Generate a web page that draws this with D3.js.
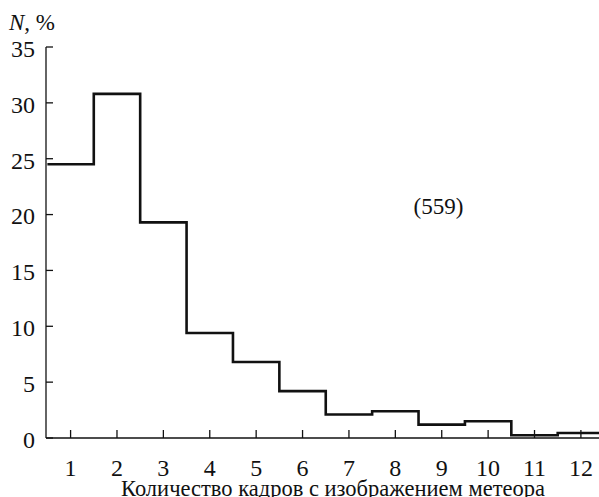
<!DOCTYPE html>
<html><head><meta charset="utf-8">
<script src="https://cdn.jsdelivr.net/npm/d3@7"></script>
<style>
html,body{margin:0;padding:0;background:#fff;overflow:hidden}
#wrap{position:relative;width:599px;height:497px;overflow:hidden}
svg{display:block;position:absolute;left:0;top:0}
.lbl{position:absolute;white-space:nowrap;font-family:'Liberation Serif','Times New Roman',serif;color:#111;line-height:1}
</style>
</head><body>
<div id="wrap"></div>
<script>
const categories = [1,2,3,4,5,6,7,8,9,10,11,12];
const values = [24.5, 30.8, 19.3, 9.4, 6.8, 4.2, 2.1, 2.4, 1.2, 1.5, 0.25, 0.45];
const yTicks = [0,5,10,15,20,25,30,35];
const annotation = "(559)";
const xTitle = "Количество кадров с изображением метеора";
const yTitle = ["N", ", %"];

const W = 599, H = 497;
const wrap = d3.select("#wrap");
const svg = wrap.append("svg").attr("width", W).attr("height", H);
const x = d3.scaleLinear().domain([0.47, 12.39]).range([46, 599]);
const y = d3.scaleLinear().domain([0, 35]).range([438, 47]);

// HTML text label positioned by baseline
function label(px, baseline, size, anchor, parts) {
  const shift = anchor === "middle" ? "-50%" : anchor === "end" ? "-100%" : "0";
  const d = wrap.append("div").attr("class", "lbl")
    .style("left", px + "px")
    .style("top", (baseline - 0.8375 * size) + "px")
    .style("font-size", size + "px")
    .style("transform", `translateX(${shift})`);
  parts.forEach(p => {
    const s = d.append("span").text(p.t);
    if (p.i) s.style("font-style", "italic");
  });
  return d;
}

svg.append("line").attr("x1", x(0.47)).attr("x2", x(0.47)).attr("y1", y(35)).attr("y2", y(0))
  .attr("stroke", "#111").attr("stroke-width", 1.3);
svg.append("line").attr("x1", x(0.47)).attr("x2", W).attr("y1", y(0)).attr("y2", y(0))
  .attr("stroke", "#111").attr("stroke-width", 1.3);

svg.selectAll(".yt").data(yTicks).enter().append("line")
  .attr("x1", x(0.47)).attr("x2", x(0.47) + 7).attr("y1", d => y(d)).attr("y2", d => y(d))
  .attr("stroke", "#111").attr("stroke-width", 1.3);
yTicks.forEach(v => label(35, y(v) + 10, 24, "end", [{t: String(v)}]));

svg.selectAll(".xt").data(categories).enter().append("line")
  .attr("x1", d => x(d)).attr("x2", d => x(d)).attr("y1", y(0)).attr("y2", y(0) - 8)
  .attr("stroke", "#111").attr("stroke-width", 1.3);
categories.forEach(c => label(x(c), 476, 24, "middle", [{t: String(c)}]));

const pts = [];
categories.forEach((c, i) => {
  const x0 = Math.max(c - 0.5, 0.47);
  const x1 = Math.min(c + 0.5, 12.39);
  pts.push([x(x0), y(values[i])]);
  pts.push([x(x1), y(values[i])]);
});
svg.append("path").attr("d", d3.line()(pts)).attr("fill", "none")
  .attr("stroke", "#111").attr("stroke-width", 2.6).attr("stroke-linejoin", "miter");

label(438.5, 214, 23, "middle", [{t: annotation}]);
label(9, 30, 23, "start", [{t: yTitle[0], i: true}, {t: yTitle[1]}]);
label(333, 497, 22.5, "middle", [{t: xTitle}]);
</script>
</body></html>
